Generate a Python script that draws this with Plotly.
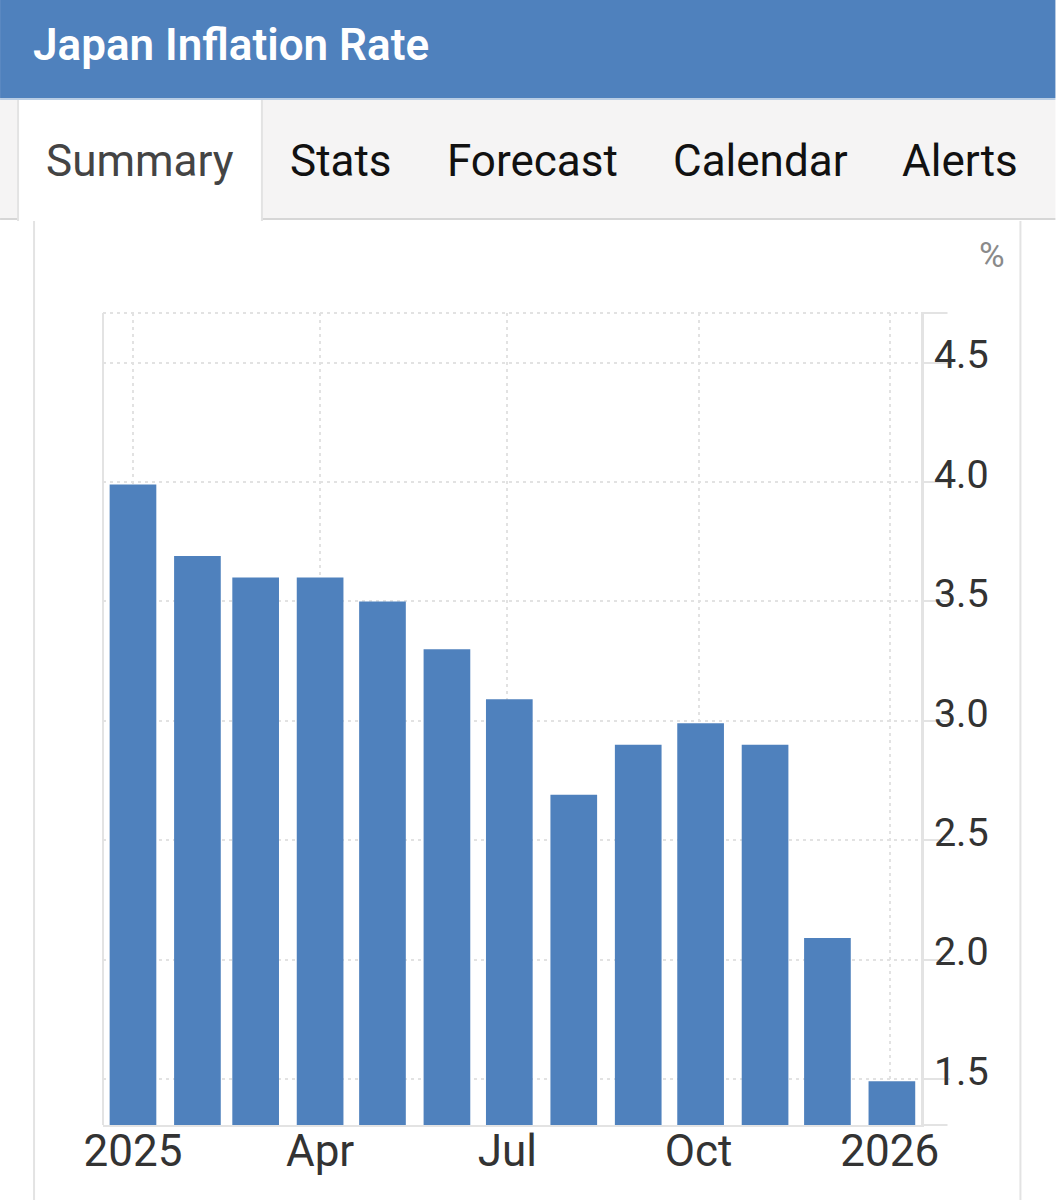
import plotly.graph_objects as go

months = ["2025-01-01", "2025-02-01", "2025-03-01", "2025-04-01", "2025-05-01", "2025-06-01", "2025-07-01",
          "2025-08-01", "2025-09-01", "2025-10-01", "2025-11-01", "2025-12-01", "2026-01-01"]
inflation = [3.99, 3.69, 3.6, 3.6, 3.5, 3.3, 3.09, 2.69, 2.9, 2.99, 2.9, 2.09, 1.49]

x_tick_dates = ["2025-01-01", "2025-04-01", "2025-06-30", "2025-09-30", "2025-12-31"]
x_tick_labels = ["2025", "Apr", "Jul", "Oct", "2026"]
y_ticks = [1.5, 2.0, 2.5, 3.0, 3.5, 4.0, 4.5]
y_tick_labels = ["1.5", "2.0", "2.5", "3.0", "3.5", "4.0", "4.5"]

tabs = ["Summary", "Stats", "Forecast", "Calendar", "Alerts"]
tab_x = [140, 341, 533, 761, 961]
tab_colors = ["#444444", "#111111", "#111111", "#111111", "#111111"]

BLUE = "#4f81bd"
LINE = "#e3e3e3"
GRID = "#e2e2e2"
DOTS = "3px,4px"

# plot area in page pixels
LEFT, RIGHT, TOP, BOTTOM = 103, 921.5, 313, 1125


def px(x):
    return (x - LEFT) / (RIGHT - LEFT)


def py(y):
    return (BOTTOM - y) / (BOTTOM - TOP)


def box(x0, y0, x1, y1, color):
    return dict(type="rect", xref="paper", yref="paper", x0=px(x0), x1=px(x1), y0=py(y0), y1=py(y1),
                fillcolor=color, line_width=0, layer="below")


def rule(x0, y0, x1, y1, color=LINE, width=2, dash="solid"):
    return dict(type="line", xref="paper", yref="paper", x0=px(x0), x1=px(x1), y0=py(y0), y1=py(y1),
                line=dict(color=color, width=width, dash=dash), layer="below")


fig = go.Figure(go.Bar(x=months, y=inflation, width=1.94e9, marker=dict(color=BLUE, line_width=0)))

# page furniture around the chart
shapes = [
    box(0, 0, 1056, 98, BLUE),
    box(0, 98, 1056, 100, "#b9cde4"),
    box(0, 100, 1056, 218, "#f5f4f4"),
    box(0, 218, 1056, 220, "#d6d6d6"),
    box(18, 100, 262, 221, "#ffffff"),
    rule(18, 100, 18, 221),
    rule(262, 100, 262, 221),
    rule(34, 221, 34, 1200),
    rule(1021, 221, 1021, 1200),
    rule(LEFT, TOP, LEFT, BOTTOM),
    rule(LEFT, TOP, RIGHT, TOP, color=GRID, dash=DOTS),
    rule(RIGHT, TOP, 948, TOP),
    rule(RIGHT, BOTTOM, 948, BOTTOM),
]

annotations = [dict(text="Japan Inflation Rate", xref="paper", yref="paper", x=px(31), y=py(45), xanchor="left",
                    yanchor="middle", showarrow=False, font=dict(family="Roboto", size=44, color="#ffffff", weight=600)),
               dict(text="%", xref="paper", yref="paper", x=px(993), y=py(255), xanchor="center", yanchor="middle",
                    showarrow=False, font=dict(family="Roboto", size=35, color="#8a8a8a"))]
for name, x, color in zip(tabs, tab_x, tab_colors):
    annotations.append(dict(text=name, xref="paper", yref="paper", x=px(x), y=py(161), xanchor="center",
                            yanchor="middle", showarrow=False, font=dict(family="Roboto", size=44, color=color)))

fig.update_layout(
    width=1056, height=1200, autosize=False,
    margin=dict(l=LEFT, r=1056 - RIGHT, t=TOP, b=1200 - BOTTOM, pad=0),
    paper_bgcolor="#ffffff", plot_bgcolor="#ffffff",
    showlegend=False, shapes=shapes, annotations=annotations,
)
fig.update_xaxes(
    type="date", range=["2024-12-17 14:00", "2026-01-15"],
    tickmode="array", tickvals=x_tick_dates, ticktext=x_tick_labels,
    tickfont=dict(family="Roboto", size=44, color="#333333"), ticks="", ticklabelstandoff=-14,
    showgrid=True, gridcolor=GRID, griddash=DOTS, gridwidth=2,
    showline=True, linecolor=LINE, linewidth=2, zeroline=False,
)
fig.update_yaxes(
    side="right", range=[1.307, 4.708],
    tickmode="array", tickvals=y_ticks, ticktext=y_tick_labels,
    tickfont=dict(family="Roboto", size=39.5, color="#333333"),
    ticks="outside", ticklen=26, tickwidth=2, tickcolor=LINE, ticklabelstandoff=-24, ticklabelshift=-8,
    showgrid=True, gridcolor=GRID, griddash=DOTS, gridwidth=2,
    showline=True, linecolor=LINE, linewidth=3, zeroline=False,
)

# the page's default body margin would push the figure off by 8px
fig.write_html("out.html", config=dict(displayModeBar=False), post_script="document.body.style.margin='0';")
